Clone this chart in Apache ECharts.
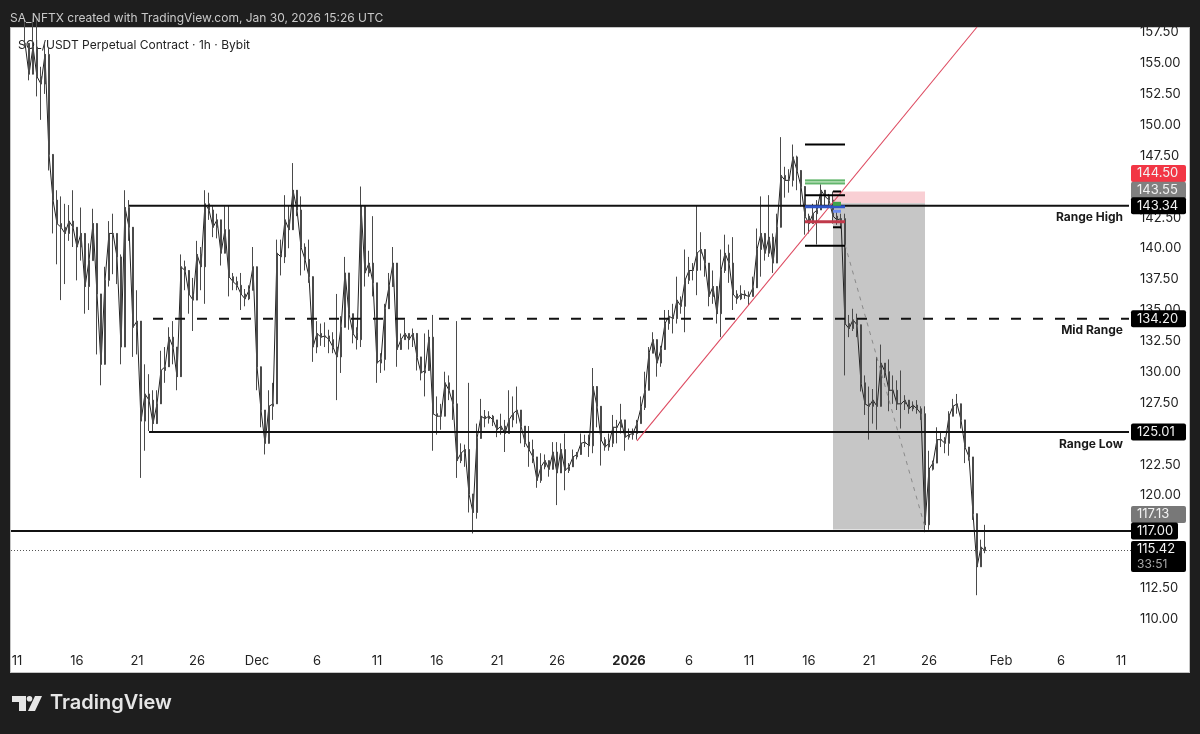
<!DOCTYPE html>
<html>
<head>
<meta charset="utf-8">
<title>SOL/USDT Perpetual Contract</title>
<script src="https://cdn.jsdelivr.net/npm/echarts@6/dist/echarts.min.js"></script>
<style>
  html, body { margin: 0; padding: 0; background: #1e1e1e; }
  #panel { position: absolute; left: 10px; top: 27px; width: 1180px; height: 646px; background: #fff; box-shadow: inset 0 0 0 1px #c4c4c4; }
  #main { position: absolute; left: 0; top: 0; width: 1200px; height: 734px; }
</style>
</head>
<body>
<div id="panel"></div>
<div id="main"></div>
<script>
// 8 hour slots, slot 1 = Nov 11 00:00. First candle sits in slot 3
const firstSlot = 3;
const slotCount = 280;

const highs = [
  158.5,156.2,158.5,158.5,154.6,156.5,156.2,145.9,144.6,144.1,
  143.5,143.4,144.6,141.6,143.2,139.4,140.3,143.1,141.6,134.9,
  138.4,142.1,142.7,141.1,139.4,144.6,143.8,140.5,136.5,132.7,
  130.5,129.7,128.4,128.4,131.6,131.9,133.5,134.0,131.9,139.4,
  138.9,137.0,137.5,140.5,140.0,144.6,144.4,143.3,142.7,141.4,
  143.3,143.4,137.9,137.6,137.9,136.6,136.9,140.0,137.9,127.9,
  125.7,128.4,129.0,140.6,140.6,144.2,143.4,146.8,144.2,144.1,
  140.3,140.6,137.1,134.0,133.8,133.9,133.3,133.1,136.2,134.4,
  139.2,137.1,134.6,133.5,144.9,140.0,139.7,142.5,137.1,131.4,
  135.4,137.9,140.0,137.1,133.0,134.1,133.0,133.4,131.8,130.8,
  133.0,133.3,134.5,127.9,127.3,129.9,129.6,128.4,134.0,124.1,
  124.0,129.0,120.0,125.7,127.7,126.8,126.7,126.4,126.0,126.5,
  126.0,128.4,127.9,128.7,126.8,125.2,125.5,124.4,121.7,123.3,
  123.2,122.5,124.2,124.2,124.1,124.9,122.5,123.6,123.4,124.9,
  124.8,124.8,130.2,128.4,125.0,124.6,124.9,126.4,126.0,127.3,
  125.2,125.3,125.3,126.0,127.9,129.9,131.9,133.1,131.7,132.0,
  134.9,134.9,135.4,137.6,136.0,139.8,139.2,138.7,143.4,141.2,
  139.5,138.3,138.1,135.7,139.8,141.0,140.2,140.8,136.5,136.9,
  136.5,136.4,137.6,141.5,144.1,140.0,144.2,141.1,142.7,148.9,
  146.5,146.3,148.3,147.4,145.6,144.1,142.7,143.5,143.8,145.4,
  144.5,144.3,144.5,143.0,142.7,142.7,134.5,135.0,134.6,133.0,
  129.6,128.7,128.5,131.1,132.1,130.6,130.9,129.6,129.2,130.0,
  128.0,127.5,127.5,127.6,127.1,127.1,123.5,122.7,125.4,125.0,
  124.6,126.7,127.7,128.1,127.1,125.7,123.8,123.0,117.9,116.3,117.5
];
const lows = [
  156.2,153.5,154.9,152.2,150.3,152.4,146.2,141.1,138.6,135.7,
  137.0,140.5,140.0,137.3,138.9,134.6,134.9,138.9,131.3,128.8,
  131.1,136.8,137.8,137.0,130.5,133.5,140.5,131.1,131.3,121.3,
  123.5,125.1,125.0,126.0,128.1,129.0,130.8,130.5,128.4,131.9,
  136.5,134.6,133.2,136.5,136.5,135.4,142.2,140.8,140.7,138.5,
  139.8,136.0,136.5,136.5,134.9,135.2,135.7,137.1,128.4,125.4,
  123.2,126.0,126.0,129.0,137.7,138.7,139.9,143.1,142.5,137.7,
  138.1,137.1,130.7,131.4,132.0,131.9,131.4,131.4,127.6,129.8,
  134.4,133.3,132.2,131.7,131.9,136.8,137.6,136.0,129.0,129.8,
  130.0,135.2,137.1,130.3,131.8,132.5,131.7,131.9,130.0,129.2,
  127.9,131.7,123.5,124.8,125.2,127.1,127.6,126.0,121.3,122.5,
  122.2,118.5,116.8,118.0,124.8,125.4,125.7,125.5,124.6,124.8,
  123.4,124.9,125.4,125.7,124.1,123.8,122.2,122.5,120.5,120.9,
  122.0,121.4,122.5,119.1,122.5,120.3,121.7,122.8,122.8,123.7,
  123.8,123.0,123.3,125.4,122.3,123.5,123.5,123.8,124.1,124.9,
  123.5,124.4,124.4,124.4,125.7,126.8,130.0,131.4,129.5,130.3,
  133.0,133.3,133.0,133.8,134.6,133.1,137.0,137.3,136.1,138.1,
  137.6,135.2,135.4,133.8,132.7,137.9,137.1,134.9,135.4,135.7,
  135.8,135.3,136.0,137.6,137.6,138.9,139.2,137.9,140.8,142.5,
  144.0,144.4,144.9,144.6,143.3,141.0,141.1,141.9,140.2,143.3,
  143.4,143.3,141.9,141.8,141.5,129.6,132.7,133.2,132.7,128.3,
  126.4,124.4,125.7,125.2,129.5,129.4,126.7,127.3,126.8,125.3,
  126.8,126.5,126.7,126.5,126.0,116.9,117.1,121.9,122.7,123.8,
  123.3,123.1,126.5,126.5,125.3,122.5,122.7,117.9,111.8,114.1,115.2
];
const closes = [
  156.5,154.0,156.2,153.8,153.2,155.6,147.5,143.8,141.9,141.6,
  141.1,142.1,141.6,140.0,141.1,136.8,138.9,141.9,136.2,130.5,
  137.3,141.1,141.1,139.2,131.9,143.2,141.6,133.5,134.0,125.9,
  128.1,127.6,125.7,127.3,130.0,130.3,132.7,131.9,129.5,138.4,
  138.1,136.2,135.7,139.4,138.4,143.5,143.0,141.6,142.2,139.5,
  141.4,137.6,137.2,136.9,136.2,135.8,136.5,138.4,130.3,126.8,
  124.1,127.1,127.3,139.5,139.2,142.2,141.4,144.6,143.0,140.0,
  139.0,137.6,131.9,133.0,132.7,132.8,132.5,131.9,131.1,133.5,
  137.9,134.6,133.0,132.5,143.3,137.9,138.7,137.1,130.6,130.9,
  135.0,136.8,138.7,131.7,132.5,133.0,132.5,133.0,131.1,129.8,
  130.0,132.7,126.5,126.3,126.3,129.0,128.4,127.3,122.7,123.3,
  123.6,120.0,118.5,124.5,126.3,126.1,126.3,126.0,125.2,125.5,
  124.9,126.0,126.5,126.8,125.5,124.2,123.6,123.0,121.1,122.2,
  122.7,122.0,123.4,121.7,123.6,121.9,122.2,123.0,123.2,124.1,
  124.2,123.9,128.7,127.1,124.4,123.8,124.1,125.4,125.4,126.0,
  124.6,124.8,124.9,125.7,127.0,128.4,131.4,132.5,130.6,131.7,
  133.8,134.4,134.2,135.7,135.2,137.3,138.1,138.1,139.5,139.8,
  138.7,136.0,136.8,134.6,138.1,139.5,138.7,136.2,135.8,136.2,
  136.1,136.0,136.7,139.8,141.1,139.5,140.8,138.7,141.6,145.8,
  145.4,145.4,147.3,146.2,144.9,142.5,141.9,142.7,143.0,144.6,
  144.1,143.8,142.5,142.2,142.3,133.8,133.4,134.1,133.7,129.0,
  127.3,127.1,127.6,127.1,130.6,129.9,128.4,128.4,127.3,127.3,
  127.6,126.9,127.2,126.9,126.5,117.5,122.0,122.5,124.4,124.4,
  124.1,126.3,127.1,127.3,126.0,123.8,123.0,118.4,114.1,115.7,115.42
];

// axis ticks
const priceTicks = [110,112.5,115,117.5,120,122.5,125,127.5,130,132.5,135,137.5,140,142.5,145,147.5,150,152.5,155,157.5];
const dateSlots = [1,16,31,46,61,76,91,106,121,136,154,169,184,199,214,229,247,262,277];
const dateLabels = ['11','16','21','26','Dec','6','11','16','21','26','2026','6','11','16','21','26','Feb','6','11'];

// drawn levels
const rangeNames = ['Range High','Mid Range','Range Low'];
const rangeValues = [143.34,134.20,125.01];
const rangeStarts = [29,35,34];
const supportValue = 117.00;
const lastPrice = 115.42;

// trend line and projection
const trendSlots = [156,241];
const trendPrices = [124.3,157.82];
const projSlots = [208,228];
const projPrices = [140.2,117.3];

// short position box
const boxSlots = [205,228];
const boxEntry = 143.55;
const boxStop = 144.50;
const boxTarget = 117.13;

// small levels left of the box
const shortSlots = [198,208];
const shortBlack = [148.3,144.2,140.1];
const shortGreen = [145.4,145.15];
const shortBlue = 143.27;
const shortRed = 142.05;
const tinySlots = [205,207];
const tinyBlack = [144.5,141.6];
const tinyGreen = 143.5;
const tinyBlue = 142.9;

// price tags on the right hand scale
const tagValues = [144.50,143.55,143.34,134.20,125.01,117.13,117.00];
const tagColors = ['#f23645','#808080','#000000','#000000','#000000','#787878','#000000'];
const tagShift = [-18,-13,0,0,0,-15,0];

const font = 'Inter, "Liberation Sans", sans-serif';
const hidden = { color: 'transparent', width: 0 };

const slots = [];
for (let i = 0; i < slotCount; i++) slots.push(String(i));

const candles = [];
const closeLine = [];
for (let i = 0; i < firstSlot; i++) { candles.push('-'); closeLine.push('-'); }
closes.forEach(function (c, i) {
  const open = i === 0 ? c : closes[i - 1];
  candles.push([open, c, lows[i], highs[i]]);
  closeLine.push(c);
});

function segment(x, y, color, width, type, z) {
  return {
    type: 'line', data: [[x[0], y[0]], [x[1], y[1]]], symbol: 'none', silent: true, animation: false,
    lineStyle: { color: color, width: width, type: type || 'solid' }, z: z || 4
  };
}
function flat(x, y, color, width, type) {
  return segment(x, [y, y], color, width, type);
}

function tag(value, text, color, shift, width) {
  return {
    yAxis: value,
    lineStyle: hidden,
    label: {
      show: true, position: 'end', distance: 0, formatter: text,
      backgroundColor: color, color: '#f2f2f2', fontFamily: font, fontSize: 13,
      width: width || 49, height: 17, lineHeight: 17, padding: [0, 0, 0, 6],
      borderRadius: 2, align: 'left', verticalAlign: 'middle', offset: [0, shift]
    }
  };
}
function rangeText(value, text) {
  return {
    yAxis: value,
    lineStyle: hidden,
    label: {
      show: true, position: 'insideEndBottom', distance: 6, formatter: text,
      color: '#1a1a1a', fontFamily: font, fontSize: 12, fontWeight: 'bold', offset: [-2, 0]
    }
  };
}

const series = [];

series.push({
  type: 'candlestick', data: candles, barWidth: 1.6, animation: false, silent: true, z: 3,
  itemStyle: { color: '#111', color0: '#111', borderColor: '#4a4a4a', borderColor0: '#4a4a4a', borderWidth: 1 },
  markArea: {
    silent: true, animation: false, z: 1,
    data: [
      [{ xAxis: boxSlots[0], yAxis: boxStop, itemStyle: { color: '#f9cfd4' } }, { xAxis: boxSlots[1], yAxis: boxEntry }],
      [{ xAxis: boxSlots[0], yAxis: boxEntry, itemStyle: { color: '#c6c6c6' } }, { xAxis: boxSlots[1], yAxis: boxTarget }]
    ]
  }
});
series.push({
  type: 'line', data: closeLine, symbol: 'none', silent: true, animation: false, z: 3,
  lineStyle: { color: '#222', width: 1 }
});

rangeValues.forEach(function (v, i) {
  series.push(flat([rangeStarts[i], slotCount - 1], v, '#111', 2, i === 1 ? [10, 12] : 'solid'));
});

series.push(segment(trendSlots, trendPrices, '#dd4a60', 1.1));
series.push(segment(projSlots, projPrices, '#8a8a8a', 1, [4, 5]));

series.push(flat(shortSlots, (shortGreen[0] + shortGreen[1]) / 2, '#a9d9ab', 5));
shortGreen.forEach(function (v) { series.push(flat(shortSlots, v, '#62b56c', 1.5)); });
shortBlack.forEach(function (v) { series.push(flat(shortSlots, v, '#000', 2)); });
series.push(flat(shortSlots, shortBlue, '#2f55c8', 3));
series.push(flat(shortSlots, shortRed, '#c0394a', 3));
tinyBlack.forEach(function (v) { series.push(flat(tinySlots, v, '#000', 2)); });
series.push(flat(tinySlots, tinyGreen, '#3fa34d', 4));
series.push(flat(tinySlots, tinyBlue, '#6d8df0', 3));

// full width lines, tags and range names
series.push({
  type: 'line', data: [], silent: true, animation: false,
  markLine: {
    silent: true, animation: false, symbol: 'none', z: 6,
    data: [
      { yAxis: supportValue, lineStyle: { color: '#111', width: 2, type: 'solid' }, label: { show: false } },
      { yAxis: lastPrice, lineStyle: { color: '#555', width: 1, type: [1, 2] }, label: { show: false } }
    ].concat(
      rangeValues.map(function (v, i) { return rangeText(v, rangeNames[i]); }),
      tagValues.map(function (v, i) {
        return tag(v, v.toFixed(2), tagColors[i], tagShift[i], v === supportValue ? 41 : 49);
      }),
      [{
        yAxis: lastPrice,
        lineStyle: hidden,
        label: {
          show: true, position: 'end', distance: 0, formatter: '{a|' + lastPrice.toFixed(2) + '}\n{b|33:51}',
          backgroundColor: '#000', fontFamily: font, width: 49, padding: [0, 0, 0, 6], borderRadius: 2,
          align: 'left', verticalAlign: 'middle', offset: [0, 6],
          rich: {
            a: { color: '#f2f2f2', fontFamily: font, fontSize: 13, lineHeight: 16 },
            b: { color: '#a8a8a8', fontFamily: font, fontSize: 12, lineHeight: 15 }
          }
        }
      }]
    )
  }
});

const chart = echarts.init(document.getElementById('main'), null, { renderer: 'canvas' });
chart.setOption({
  backgroundColor: 'transparent',
  animation: false,
  title: [
    { text: 'SA_NFTX created with TradingView.com, Jan 30, 2026 15:26 UTC', left: 5, top: 7,
      textStyle: { color: '#c9c9c9', fontFamily: font, fontSize: 12, fontWeight: 'normal' } },
    { text: 'SOL/USDT Perpetual Contract · 1h · Bybit', left: 13, top: 34, z: 1,
      textStyle: { color: '#222', fontFamily: font, fontSize: 12, fontWeight: 'normal' } }
  ],
  grid: { left: 11, top: 27, width: 1120, height: 646 },
  xAxis: {
    type: 'category', data: slots, boundaryGap: true,
    axisLine: { show: false }, axisTick: { show: false }, splitLine: { show: false },
    axisLabel: {
      inside: true, margin: 5, color: '#222', fontFamily: font, fontSize: 13,
      interval: function (i) { return dateSlots.indexOf(i) >= 0; },
      formatter: function (v, i) {
        const label = dateLabels[dateSlots.indexOf(i)];
        return label === '2026' ? '{b|2026}' : label;
      },
      rich: { b: { fontFamily: font, fontSize: 13, fontWeight: 'bold', color: '#222' } }
    }
  },
  yAxis: {
    type: 'value', position: 'right', min: 105.5, max: 157.82, scale: true,
    axisLine: { show: false }, axisTick: { show: false }, splitLine: { show: false },
    axisLabel: {
      customValues: priceTicks, margin: 9,
      formatter: function (v) { return '{p|' + v.toFixed(2) + '}'; },
      rich: { p: { color: '#222', fontFamily: font, fontSize: 13, padding: [3, 0, 0, 0] } }
    }
  },
  graphic: [
    { type: 'polygon', shape: { points: [[12,696],[26,696],[26,711],[19,711],[19,702],[12,702]] }, style: { fill: '#e6e6e6' } },
    { type: 'circle', shape: { cx: 29.5, cy: 698.7, r: 2.8 }, style: { fill: '#e6e6e6' } },
    { type: 'polygon', shape: { points: [[35,696],[42,696],[35,711],[28,711]] }, style: { fill: '#e6e6e6' } },
    { type: 'text', left: 50, top: 693,
      style: { text: 'TradingView', fill: '#e6e6e6', font: '600 20px ' + font } }
  ],
  series: series
});
</script>
</body>
</html>
